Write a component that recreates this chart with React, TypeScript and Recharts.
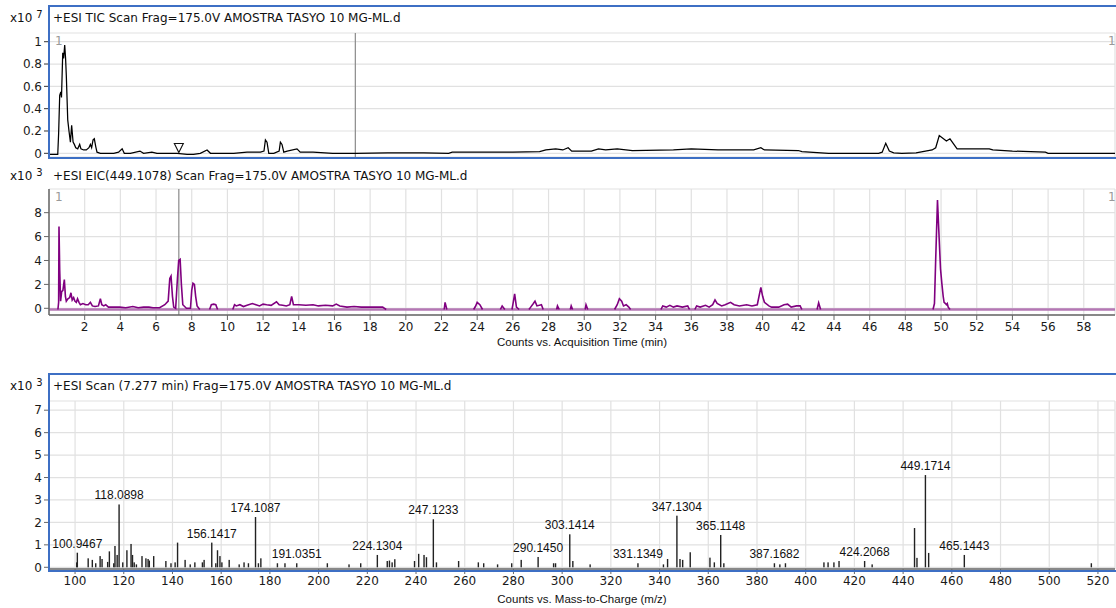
import React from "react";
import {
  LineChart,
  Line,
  BarChart,
  Bar,
  XAxis,
  YAxis,
  CartesianGrid,
  ReferenceLine,
  ReferenceDot,
  LabelList,
} from "recharts";

// retention time axis (min)
const timeTicks = [2, 4, 6, 8, 10, 12, 14, 16, 18, 20, 22, 24, 26, 28, 30, 32, 34, 36, 38, 40, 42, 44, 46, 48, 50, 52, 54, 56, 58];
const ticTicks = [0, 0.2, 0.4, 0.6, 0.8, 1];
const eicTicks = [0, 2, 4, 6, 8];
const mzTicks = [100, 120, 140, 160, 180, 200, 220, 240, 260, 280, 300, 320, 340, 360, 380, 400, 420, 440, 460, 480, 500, 520];
const msTicks = [0, 1, 2, 3, 4, 5, 6, 7];

// TIC, x10^7 counts
const ticPoints: [number, number][] = [
  [0.05, -0.01], [0.49, -0.01], [0.54, 0.18], [0.6, 0.52], [0.66, 0.55], [0.7, 0.5], [0.77, 0.9], [0.82, 0.85],
  [0.88, 0.97], [0.93, 0.85], [0.97, 0.7], [1.05, 0.3], [1.12, 0.2], [1.2, 0.1], [1.27, 0.25], [1.35, 0.1],
  [1.42, 0.08], [1.5, 0.05], [1.61, 0.04], [1.72, 0.08], [1.79, 0.04], [1.94, 0.03], [2.09, 0.03], [2.24, 0.05],
  [2.32, 0.08], [2.39, 0.05], [2.47, 0.12], [2.54, 0.13], [2.62, 0.06], [2.69, 0.01], [2.88, 0.0], [3.25, 0.0],
  [3.63, 0.0], [3.9, 0.01], [4.1, 0.04], [4.22, 0.0], [4.56, 0.0], [5.1, 0.02], [5.3, 0.0], [5.77, 0.01],
  [6.05, 0.0], [7.18, 0.0], [7.74, -0.01], [8.1, -0.01], [8.48, 0.0], [8.86, 0.03], [9.05, 0.0], [10.35, 0.0],
  [11.1, 0.01], [11.85, 0.01], [12.05, 0.02], [12.13, 0.12], [12.22, 0.1], [12.32, 0.0], [12.6, 0.0], [12.9, 0.02],
  [12.97, 0.1], [13.06, 0.08], [13.16, 0.01], [13.35, 0.02], [13.9, 0.04], [14.08, 0.01], [14.8, 0.01], [15.9, 0.0],
  [17.2, 0.0], [19.0, 0.005], [21.0, 0.005], [22.4, 0.0], [22.6, 0.01], [23.9, 0.01], [26.0, 0.01], [27.5, 0.015],
  [27.85, 0.03], [28.4, 0.04], [28.8, 0.03], [29.1, 0.05], [29.3, 0.02], [30.4, 0.02], [30.8, 0.04], [31.2, 0.03],
  [31.85, 0.04], [32.7, 0.025], [35.0, 0.03], [36.0, 0.04], [37.5, 0.03], [39.5, 0.03], [39.9, 0.05], [40.1, 0.03],
  [42.0, 0.025], [42.2, 0.015], [43.7, 0.0], [46.5, 0.0], [46.7, 0.01], [46.9, 0.09], [47.1, 0.02], [47.35, 0.005],
  [47.8, 0.0], [48.6, 0.005], [49.5, 0.03], [49.7, 0.05], [49.9, 0.16], [50.3, 0.11], [50.5, 0.13], [50.9, 0.04],
  [51.1, 0.04], [52.7, 0.04], [52.9, 0.03], [54.0, 0.02], [55.85, 0.01], [56.0, 0.0], [59.75, 0.0],
];

// EIC 449.1078, x10^3 counts; null = gap (baseline only)
const eicPoints: [number, number | null][] = [
  [0.5, -0.1], [0.54, 0.5], [0.56, 6.85], [0.6, 3.2], [0.65, 0.6], [0.71, 1.4], [0.78, 1.5], [0.86, 2.4],
  [0.92, 1.0], [0.97, 0.6], [1.06, 0.8], [1.16, 0.9], [1.23, 1.3], [1.3, 0.7], [1.38, 0.9], [1.45, 0.6],
  [1.53, 0.5], [1.6, 0.8], [1.68, 0.5], [1.76, 0.3], [1.9, 0.4], [2.06, 0.3], [2.2, 0.3], [2.32, 0.5],
  [2.43, 0.2], [2.58, 0.15], [2.77, 0.2], [2.88, 0.8], [2.96, 0.3], [3.07, 0.2], [3.18, 0.3], [3.33, 0.1],
  [3.6, 0.1], [3.96, 0.1], [4.3, 0.05], [4.7, 0.15], [5.0, 0.05], [5.3, 0.1], [5.6, 0.1], [5.83, 0.05],
  [6.2, 0.05], [6.49, 0.3], [6.68, 0.6], [6.77, 2.5], [6.84, 2.7], [6.92, 1.0], [6.99, 0.1], [7.1, 0.0],
  [7.2, 2.5], [7.27, 4.0], [7.35, 4.1], [7.42, 2.0], [7.5, 0.3], [7.7, 0.0], [7.93, 0.0], [8.0, 1.5],
  [8.07, 2.1], [8.15, 2.0], [8.22, 1.0], [8.3, 0.2], [8.45, -0.1], [8.6, null],
  [9.0, -0.1], [9.1, 0.3], [9.23, 0.35], [9.35, 0.3], [9.45, -0.1], [9.6, null],
  [10.3, -0.1], [10.4, 0.3], [10.5, 0.2], [10.7, 0.3], [10.9, 0.15], [11.1, 0.25], [11.4, 0.4], [11.6, 0.3],
  [11.8, 0.2], [12.0, 0.35], [12.2, 0.3], [12.45, 0.25], [12.75, 0.55], [12.9, 0.3], [13.1, 0.25], [13.3, 0.2],
  [13.5, 0.3], [13.6, 1.0], [13.7, 0.3], [14.0, 0.3], [14.4, 0.25], [14.8, 0.3], [15.1, 0.2], [15.5, 0.25],
  [15.9, 0.2], [16.1, 0.35], [16.3, 0.2], [16.7, 0.1], [17.1, 0.15], [17.5, 0.1], [17.9, 0.1], [18.2, 0.1],
  [18.7, 0.1], [18.9, -0.1], [19.5, null],
  [22.15, -0.1], [22.2, 0.5], [22.3, -0.1], [22.5, null],
  [23.8, -0.1], [23.9, 0.15], [24.0, 0.5], [24.15, 0.3], [24.3, -0.1], [24.5, null],
  [25.3, -0.1], [25.4, 0.2], [25.55, -0.1], [25.7, null],
  [25.95, -0.1], [26.0, 0.3], [26.1, 1.2], [26.2, 0.1], [26.35, -0.1], [26.5, null],
  [26.9, -0.1], [27.0, 0.1], [27.15, 0.4], [27.24, 0.6], [27.35, 0.2], [27.6, 0.3], [27.7, -0.1], [28.0, null],
  [28.45, -0.1], [28.5, 0.2], [28.6, -0.1], [28.8, null],
  [29.22, -0.1], [29.27, 0.2], [29.35, -0.1], [29.6, null],
  [30.05, -0.1], [30.1, 0.3], [30.2, -0.1], [30.5, null],
  [31.7, -0.1], [31.85, 0.3], [31.97, 0.8], [32.1, 0.6], [32.2, 0.2], [32.35, 0.3], [32.5, 0.1], [32.6, -0.1], [33.0, null],
  [34.3, -0.1], [34.4, 0.2], [34.6, 0.1], [34.8, 0.25], [35.0, 0.1], [35.2, 0.2], [35.5, 0.1], [35.8, 0.2], [35.9, -0.1], [36.0, null],
  [36.2, -0.1], [36.3, 0.2], [36.5, 0.1], [36.8, 0.25], [37.0, 0.1], [37.2, 0.3], [37.33, 0.7], [37.45, 0.4],
  [37.7, 0.2], [37.9, 0.3], [38.2, 0.5], [38.4, 0.3], [38.7, 0.2], [39.1, 0.3], [39.4, 0.2], [39.7, 0.3],
  [39.9, 1.75], [40.0, 1.0], [40.1, 0.5], [40.35, 0.2], [40.5, 0.1], [40.9, 0.1], [41.2, 0.3], [41.4, 0.35],
  [41.6, 0.1], [41.9, 0.2], [42.1, 0.2], [42.2, -0.1], [42.6, null],
  [43.05, -0.1], [43.14, 0.45], [43.25, -0.1], [43.5, null],
  [49.55, -0.1], [49.63, 0.4], [49.7, 4.1], [49.8, 9.05], [49.86, 7.0], [49.97, 3.3], [50.05, 2.0], [50.12, 1.0],
  [50.17, 0.5], [50.25, 0.4], [50.3, 0.3], [50.35, 0.4], [50.4, 0.1], [50.5, -0.1],
];

// MS scan at 7.277 min: m/z and counts (x10^3)
const msMz = [
  100.7, 100.9467, 105.4, 107.1, 108.5, 110.3, 111.1, 113.4, 114.1, 115.9, 116.4, 117.3, 118.0898, 119.6, 121.3, 123.0,
  123.6, 124.3, 125.2, 127.5, 129.1, 130.0, 130.5, 132.3, 137.3, 139.4, 141.1, 142.1, 145.2, 147.3, 149.2, 152.3,
  153.0, 156.1417, 157.8, 158.5, 159.5, 160.3, 163.3, 167.4, 169.4, 171.2, 174.1087, 175.3, 176.3, 183.1, 186.2, 191.0351,
  203.6, 212.5, 217.3, 224.1304, 228.2, 229.1, 230.2, 231.3, 239.4, 241.1, 243.3, 244.3, 247.1233, 248.4, 257.5, 265.6,
  267.8, 273.5, 279.3, 283.2, 290.145, 296.5, 297.3, 303.1414, 304.4, 311.5, 331.1349, 341.6, 343.3, 347.1304, 348.4, 349.5,
  352.6, 360.7, 362.5, 365.1148, 366.4, 387.1682, 389.4, 391.7, 407.5, 409.2, 411.6, 413.7, 424.2068, 427.3, 444.7, 445.7,
  449.1714, 450.5, 465.1443, 517.3,
];
const msCounts = [
  0.22, 0.65, 0.4, 0.33, 0.18, 0.5, 0.37, 0.24, 0.71, 0.18, 0.95, 0.55, 2.8, 0.22, 0.76, 1.04,
  0.55, 0.22, 0.13, 0.5, 0.4, 0.37, 0.3, 0.5, 0.28, 0.18, 0.22, 1.1, 0.33, 0.13, 0.22, 0.22,
  0.33, 1.1, 0.18, 0.76, 0.5, 0.22, 0.33, 0.13, 0.22, 0.18, 2.24, 0.18, 0.4, 0.18, 0.18, 0.18,
  0.18, 0.13, 0.18, 0.55, 0.28, 0.3, 0.22, 0.36, 0.28, 0.6, 0.55, 0.45, 2.14, 0.22, 0.28, 0.22,
  0.18, 0.13, 0.18, 0.33, 0.46, 0.18, 0.18, 1.47, 0.28, 0.13, 0.18, 0.13, 0.37, 2.3, 0.37, 0.33,
  0.67, 0.43, 0.22, 1.44, 0.18, 0.18, 0.13, 0.18, 0.22, 0.22, 0.22, 0.28, 0.28, 0.13, 1.75, 0.42,
  4.11, 0.64, 0.55, 0.18,
];
const msLabelled = [100.9467, 118.0898, 156.1417, 174.1087, 191.0351, 224.1304, 247.1233, 290.145, 303.1414, 331.1349, 347.1304, 365.1148, 387.1682, 424.2068, 449.1714, 465.1443];

const ticData = ticPoints.map(([t, v]) => ({ t, v }));
const eicData = eicPoints.map(([t, v]) => ({ t, v }));
const msData = msMz.map((mz, i) => ({
  mz,
  counts: msCounts[i],
  label: msLabelled.includes(mz) ? mz.toFixed(4) : undefined,
}));

const FONT = '"DejaVu Sans", Verdana, sans-serif';
const FONT2 = '"Liberation Sans", Arial, sans-serif';
const BLUE = "#3d6fc4";
const GRID = "#e1e1e1";
const AXIS = "#666";
const tickStyle = { fill: "#1a1a1a", fontSize: 12, fontFamily: FONT };

function Scale({ top, exp }: { top: number; exp: string }) {
  return (
    <div style={{ position: "absolute", left: 10, top, fontSize: 12, lineHeight: "14px", color: "#111" }}>
      x10 <span style={{ fontSize: 10, position: "relative", top: -4 }}>{exp}</span>
    </div>
  );
}

function Text({ left, top, children, color = "#111", width, size = 12, font = FONT }: any) {
  return (
    <div style={{ position: "absolute", left, top, width, fontSize: size, fontFamily: font, lineHeight: "14px", color, textAlign: width ? "center" : "left", whiteSpace: "nowrap" }}>
      {children}
    </div>
  );
}

function Triangle(props: any) {
  const { cx, cy } = props;
  return <path d={`M${cx - 4.5},${cy - 4.5} L${cx + 4.5},${cy - 4.5} L${cx},${cy + 4.5} Z`} fill="#fff" stroke="#111" strokeWidth={1.1} />;
}

function Stick(props: any) {
  const { x, y, width, height } = props;
  if (height == null || height <= 0) return null;
  const cx = x + width / 2;
  return <rect x={cx - 0.7} y={y} width={1.4} height={height} fill="#222" />;
}

export default function App() {
  return (
    <div style={{ position: "absolute", left: 0, top: 0, width: 1116, height: 608, background: "#fff", fontFamily: FONT, overflow: "hidden" }}>
      {/* TIC */}
      <div style={{ position: "absolute", left: 0, top: 0 }}>
        <LineChart width={1116} height={160} data={ticData} margin={{ top: 33, right: 1, bottom: 3, left: 0 }}>
          <CartesianGrid stroke={GRID} strokeWidth={1.2} />
          <XAxis type="number" dataKey="t" domain={[0, 59.75]} allowDataOverflow ticks={timeTicks} tick={false} axisLine={false} tickLine={false} height={0} />
          <YAxis type="number" domain={[-0.033, 1.078]} allowDataOverflow ticks={ticTicks} interval={0} width={49} tick={tickStyle} tickSize={5} tickMargin={2} axisLine={false} tickLine={{ stroke: "#333" }} />
          <ReferenceLine x={17.17} stroke="#8a8a8a" strokeWidth={1.2} />
          <Line type="linear" dataKey="v" stroke="#000" strokeWidth={1.25} dot={false} isAnimationActive={false} />
          <ReferenceDot x={7.277} y={0.047} r={5} shape={<Triangle />} />
        </LineChart>
      </div>
      <div style={{ position: "absolute", left: 48, top: 5, width: 1066, height: 150, border: `2px solid ${BLUE}` }} />
      <Scale top={11} exp="7" />
      <Text left={53} top={11}>+ESI TIC Scan Frag=175.0V AMOSTRA TASYO 10 MG-ML.d</Text>
      <Text left={55} top={34} color="#999">1</Text>
      <Text left={1108} top={34} color="#999">1</Text>

      {/* EIC */}
      <div style={{ position: "absolute", left: 0, top: 160 }}>
        <LineChart width={1116} height={200} data={eicData} margin={{ top: 29, right: 1, bottom: 0, left: 0 }}>
          <CartesianGrid stroke={GRID} strokeWidth={1.2} />
          <XAxis type="number" dataKey="t" domain={[0, 59.75]} allowDataOverflow ticks={timeTicks} interval={0} height={45} tick={tickStyle} tickSize={5} tickMargin={2} axisLine={{ stroke: AXIS, strokeWidth: 1.5 }} tickLine={{ stroke: AXIS }} />
          <YAxis type="number" domain={[-0.56, 9.98]} allowDataOverflow ticks={eicTicks} interval={0} width={49} tick={tickStyle} tickSize={5} tickMargin={2} axisLine={{ stroke: AXIS, strokeWidth: 1.5 }} tickLine={{ stroke: AXIS }} />
          <ReferenceLine y={-0.1} stroke="#b477b4" strokeWidth={2.5} />
          <ReferenceLine x={7.277} stroke="#8a8a8a" strokeWidth={1.2} />
          <Line type="linear" dataKey="v" stroke="#800080" strokeWidth={1.6} dot={false} connectNulls={false} isAnimationActive={false} />
        </LineChart>
      </div>
      <Scale top={169} exp="3" />
      <Text left={53} top={169}>+ESI EIC(449.1078) Scan Frag=175.0V AMOSTRA TASYO 10 MG-ML.d</Text>
      <Text left={55} top={190} color="#999">1</Text>
      <Text left={1108} top={190} color="#999">1</Text>
      <Text left={49} width={1066} top={335} size={11.5} font={FONT2}>Counts vs. Acquisition Time (min)</Text>

      {/* MS spectrum */}
      <div style={{ position: "absolute", left: 0, top: 360 }}>
        <BarChart width={1116} height={248} data={msData} margin={{ top: 41, right: 1, bottom: 0, left: 0 }}>
          <CartesianGrid stroke={GRID} strokeWidth={1.2} />
          <XAxis type="number" dataKey="mz" domain={[89.3, 527]} allowDataOverflow ticks={mzTicks} interval={0} height={39} tick={tickStyle} tickSize={5} tickMargin={2} axisLine={{ stroke: AXIS, strokeWidth: 1.5 }} tickLine={{ stroke: AXIS }} />
          <YAxis type="number" domain={[-0.076, 7.41]} allowDataOverflow ticks={msTicks} interval={0} width={49} tick={tickStyle} tickSize={5} tickMargin={2} axisLine={{ stroke: AXIS, strokeWidth: 1.5 }} tickLine={{ stroke: AXIS }} />
          <Bar dataKey="counts" barSize={2} shape={<Stick />} isAnimationActive={false}>
            <LabelList dataKey="label" position="top" offset={5} style={{ fontSize: 12, fill: "#111", fontFamily: FONT2 }} />
          </Bar>
        </BarChart>
      </div>
      <div style={{ position: "absolute", left: 48, top: 373, width: 1066, height: 195, border: `2px solid ${BLUE}` }} />
      <Scale top={379} exp="3" />
      <Text left={53} top={379}>+ESI Scan (7.277 min) Frag=175.0V AMOSTRA TASYO 10 MG-ML.d</Text>
      <Text left={49} width={1066} top={592} size={11.5} font={FONT2}>Counts vs. Mass-to-Charge (m/z)</Text>
    </div>
  );
}
